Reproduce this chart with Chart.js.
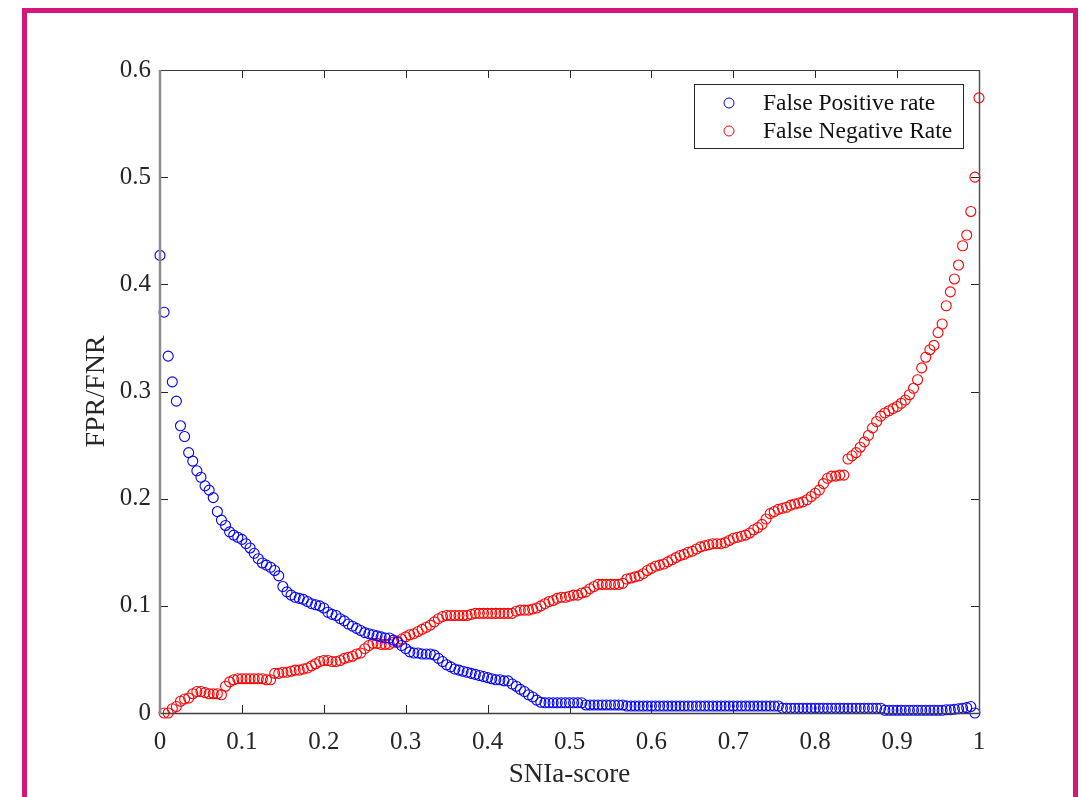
<!DOCTYPE html>
<html>
<head>
<meta charset="utf-8">
<title>FPR / FNR vs SNIa-score</title>
<script src="https://cdn.jsdelivr.net/npm/chart.js@4.4.0/dist/chart.umd.min.js"></script>
<style>
  html, body { margin: 0; padding: 0; background: #fff; overflow: hidden; }
  #frame { position: absolute; left: 22px; top: 8px; width: 1046px; height: 830px; border: 5px solid #d4187a; border-bottom: none; }
  #wrap { position: absolute; left: 0; top: 0; width: 1081px; height: 797px; }
</style>
</head>
<body>
<div id="frame"></div>
<div id="wrap"><canvas id="rates" width="1081" height="797"></canvas></div>
<script>
// false positive rate, one value per score threshold (0, 0.005, ..., 0.995)
const fprRate = [
  0.427, 0.374, 0.333, 0.309, 0.291, 0.268, 0.258, 0.243, 0.235, 0.226,
  0.220, 0.212, 0.208, 0.201, 0.188, 0.180, 0.175, 0.169, 0.166, 0.164,
  0.162, 0.158, 0.154, 0.149, 0.144, 0.140, 0.138, 0.136, 0.133, 0.128,
  0.118, 0.113, 0.110, 0.108, 0.107, 0.106, 0.104, 0.102, 0.101, 0.100,
  0.098, 0.094, 0.092, 0.091, 0.088, 0.086, 0.083, 0.081, 0.079, 0.077,
  0.075, 0.074, 0.073, 0.072, 0.071, 0.070, 0.070, 0.068, 0.066, 0.063,
  0.060, 0.057, 0.056, 0.056, 0.055, 0.055, 0.055, 0.054, 0.051, 0.048,
  0.045, 0.043, 0.041, 0.040, 0.039, 0.038, 0.037, 0.036, 0.035, 0.034,
  0.033, 0.032, 0.031, 0.031, 0.030, 0.030, 0.027, 0.025, 0.022, 0.020,
  0.017, 0.015, 0.012, 0.010, 0.0095, 0.0095, 0.0095, 0.0095, 0.0095, 0.0095,
  0.0095, 0.0095, 0.0095, 0.0095, 0.0075, 0.0075, 0.0075, 0.0075, 0.0075, 0.0075,
  0.0075, 0.0075, 0.0075, 0.0075, 0.0065, 0.0065, 0.0065, 0.0065, 0.0065, 0.0065,
  0.0065, 0.0065, 0.0065, 0.0065, 0.0065, 0.0065, 0.0065, 0.0065, 0.0065, 0.0065,
  0.0065, 0.0065, 0.0065, 0.0065, 0.0065, 0.0065, 0.0065, 0.0065, 0.0065, 0.0065,
  0.0065, 0.0065, 0.0065, 0.0065, 0.0065, 0.0065, 0.0065, 0.0065, 0.0065, 0.0065,
  0.0065, 0.0065, 0.0045, 0.0045, 0.0045, 0.0045, 0.0045, 0.0045, 0.0045, 0.0045,
  0.0045, 0.0045, 0.0045, 0.0045, 0.0045, 0.0045, 0.0045, 0.0045, 0.0045, 0.0045,
  0.0045, 0.0045, 0.0045, 0.0045, 0.0045, 0.0045, 0.0045, 0.0025, 0.0025, 0.0025,
  0.0025, 0.0025, 0.0025, 0.0025, 0.0025, 0.0025, 0.0025, 0.0025, 0.0025, 0.0025,
  0.0025, 0.0025, 0.003, 0.003, 0.0035, 0.004, 0.0045, 0.005, 0.006, 0
];

// false negative rate, one value per score threshold (0.005, 0.01, ..., 1)
const fnrRate = [
  0, 0, 0.004, 0.006, 0.011, 0.013, 0.014, 0.018, 0.020, 0.020,
  0.019, 0.018, 0.018, 0.018, 0.017, 0.025, 0.029, 0.031, 0.032, 0.032,
  0.032, 0.032, 0.032, 0.032, 0.032, 0.031, 0.031, 0.037, 0.037, 0.038,
  0.038, 0.039, 0.040, 0.040, 0.041, 0.042, 0.044, 0.046, 0.048, 0.049,
  0.049, 0.048, 0.048, 0.049, 0.051, 0.052, 0.053, 0.055, 0.056, 0.060,
  0.063, 0.065, 0.065, 0.064, 0.064, 0.064, 0.066, 0.067, 0.069, 0.071,
  0.073, 0.074, 0.076, 0.078, 0.080, 0.082, 0.085, 0.088, 0.090, 0.091,
  0.091, 0.091, 0.091, 0.091, 0.091, 0.092, 0.093, 0.093, 0.093, 0.093,
  0.093, 0.093, 0.093, 0.093, 0.093, 0.093, 0.095, 0.096, 0.096, 0.096,
  0.097, 0.098, 0.100, 0.102, 0.104, 0.105, 0.107, 0.108, 0.108, 0.109,
  0.110, 0.110, 0.112, 0.113, 0.116, 0.118, 0.120, 0.120, 0.120, 0.120,
  0.120, 0.120, 0.121, 0.125, 0.126, 0.127, 0.128, 0.130, 0.133, 0.135,
  0.137, 0.138, 0.139, 0.141, 0.143, 0.145, 0.147, 0.148, 0.150, 0.151,
  0.153, 0.155, 0.156, 0.157, 0.158, 0.158, 0.158, 0.159, 0.161, 0.163,
  0.164, 0.165, 0.166, 0.168, 0.171, 0.173, 0.176, 0.181, 0.186, 0.188,
  0.190, 0.191, 0.192, 0.194, 0.195, 0.196, 0.197, 0.199, 0.202, 0.205,
  0.208, 0.214, 0.219, 0.221, 0.221, 0.222, 0.222, 0.237, 0.240, 0.243,
  0.248, 0.253, 0.259, 0.266, 0.272, 0.277, 0.280, 0.282, 0.284, 0.286,
  0.289, 0.292, 0.297, 0.303, 0.311, 0.322, 0.332, 0.339, 0.343, 0.355,
  0.363, 0.380, 0.393, 0.405, 0.418, 0.436, 0.446, 0.468, 0.500, 0.574
];

const scoreStep = 0.005;
const fprScore = fprRate.map((_, i) => +(i * scoreStep).toFixed(3));
const fnrScore = fnrRate.map((_, i) => +((i + 1) * scoreStep).toFixed(3));

const xTicks = [0, 0.1, 0.2, 0.3, 0.4, 0.5, 0.6, 0.7, 0.8, 0.9, 1];
const yTicks = [0, 0.1, 0.2, 0.3, 0.4, 0.5, 0.6];
const seriesNames = ['False Positive rate', 'False Negative Rate'];
const seriesColors = ['#0000ff', '#ff0000'];

const SERIF = '"Liberation Serif", "Times New Roman", Times, serif';
const INK = '#262626';

// box round the plot, inward ticks on all four sides, and the legend
const axesBox = {
  id: 'axesBox',
  afterDatasetsDraw(chart) {
    const { ctx, chartArea: a, scales: { x, y } } = chart;
    ctx.save();
    ctx.strokeStyle = INK;
    ctx.lineWidth = 1;
    ctx.beginPath();
    xTicks.forEach(v => {
      const px = Math.round(x.getPixelForValue(v)) + 0.5;
      ctx.moveTo(px, a.bottom); ctx.lineTo(px, a.bottom - 8);
      ctx.moveTo(px, a.top); ctx.lineTo(px, a.top + 8);
    });
    yTicks.forEach(v => {
      const py = Math.round(y.getPixelForValue(v)) + 0.5;
      ctx.moveTo(a.left, py); ctx.lineTo(a.left + 8, py);
      ctx.moveTo(a.right, py); ctx.lineTo(a.right - 8, py);
    });
    ctx.stroke();

    // top and right edges
    ctx.strokeStyle = '#3a3a3a';
    ctx.beginPath();
    ctx.moveTo(a.left, a.top + 0.5); ctx.lineTo(a.right, a.top + 0.5);
    ctx.stroke();
    ctx.lineWidth = 1.5;
    ctx.strokeStyle = '#505050';
    ctx.beginPath();
    ctx.moveTo(a.right + 0.5, a.top); ctx.lineTo(a.right + 0.5, a.bottom);
    ctx.stroke();
    // bottom edge
    ctx.strokeStyle = '#404040';
    ctx.beginPath();
    ctx.moveTo(a.left, a.bottom + 0.5); ctx.lineTo(a.right + 1, a.bottom + 0.5);
    ctx.stroke();
    // left edge
    ctx.lineWidth = 2.5;
    ctx.strokeStyle = '#8c8c8c';
    ctx.beginPath();
    ctx.moveTo(a.left, a.top); ctx.lineTo(a.left, a.bottom + 1);
    ctx.stroke();

    // legend
    const w = 269, h = 64;
    const lx = a.right - 16 - w, ly = a.top + 14;
    ctx.fillStyle = '#fff';
    ctx.fillRect(lx, ly, w, h);
    ctx.lineWidth = 1;
    ctx.strokeStyle = INK;
    ctx.strokeRect(lx + 0.5, ly + 0.5, w, h);
    ctx.font = '23.5px ' + SERIF;
    ctx.textBaseline = 'middle';
    ctx.textAlign = 'left';
    chart.data.datasets.forEach((ds, i) => {
      const ry = ly + 19 + i * 28;
      ctx.strokeStyle = ds.borderColor;
      ctx.beginPath();
      ctx.arc(lx + 35, ry, 5, 0, Math.PI * 2);
      ctx.stroke();
      ctx.fillStyle = '#111';
      ctx.fillText(ds.label, lx + 69, ry + 1);
    });
    ctx.restore();
  }
};

new Chart(document.getElementById('rates'), {
  type: 'scatter',
  data: {
    datasets: [
      {
        label: seriesNames[0],
        data: fprScore.map((s, i) => ({ x: s, y: fprRate[i] })),
        borderColor: seriesColors[0]
      },
      {
        label: seriesNames[1],
        data: fnrScore.map((s, i) => ({ x: s, y: fnrRate[i] })),
        borderColor: seriesColors[1]
      }
    ].map(ds => Object.assign(ds, {
      backgroundColor: 'rgba(0,0,0,0)',
      pointStyle: 'circle',
      pointRadius: 5,
      pointBorderWidth: 1.1,
      pointHoverRadius: 5,
      clip: false
    }))
  },
  options: {
    responsive: false,
    animation: false,
    events: [],
    layout: { padding: { top: 70, right: 102, left: 0, bottom: 0 } },
    plugins: { legend: { display: false }, tooltip: { enabled: false } },
    scales: {
      x: {
        type: 'linear',
        min: 0, max: 1,
        afterBuildTicks: s => { s.ticks = xTicks.map(v => ({ value: v })); },
        afterFit: s => { s.height = 84; },
        grid: { display: false, drawTicks: false },
        border: { display: false },
        ticks: {
          padding: 14,
          color: INK,
          font: { family: SERIF, size: 25 },
          maxRotation: 0,
          callback: v => String(v)
        },
        title: {
          display: true,
          text: 'SNIa-score',
          color: INK,
          font: { family: SERIF, size: 27 },
          padding: { top: 0, bottom: 6 }
        }
      },
      y: {
        type: 'linear',
        min: 0, max: 0.6,
        afterBuildTicks: s => { s.ticks = yTicks.map(v => ({ value: v })); },
        afterFit: s => { s.width = 160; },
        grid: { display: false, drawTicks: false },
        border: { display: false },
        ticks: {
          padding: 9,
          color: INK,
          font: { family: SERIF, size: 25 },
          callback: v => String(v)
        },
        title: {
          display: true,
          text: 'FPR/FNR',
          color: INK,
          font: { family: SERIF, size: 28 },
          padding: { top: 80, bottom: 0 }
        }
      }
    }
  },
  plugins: [axesBox]
});
</script>
</body>
</html>
